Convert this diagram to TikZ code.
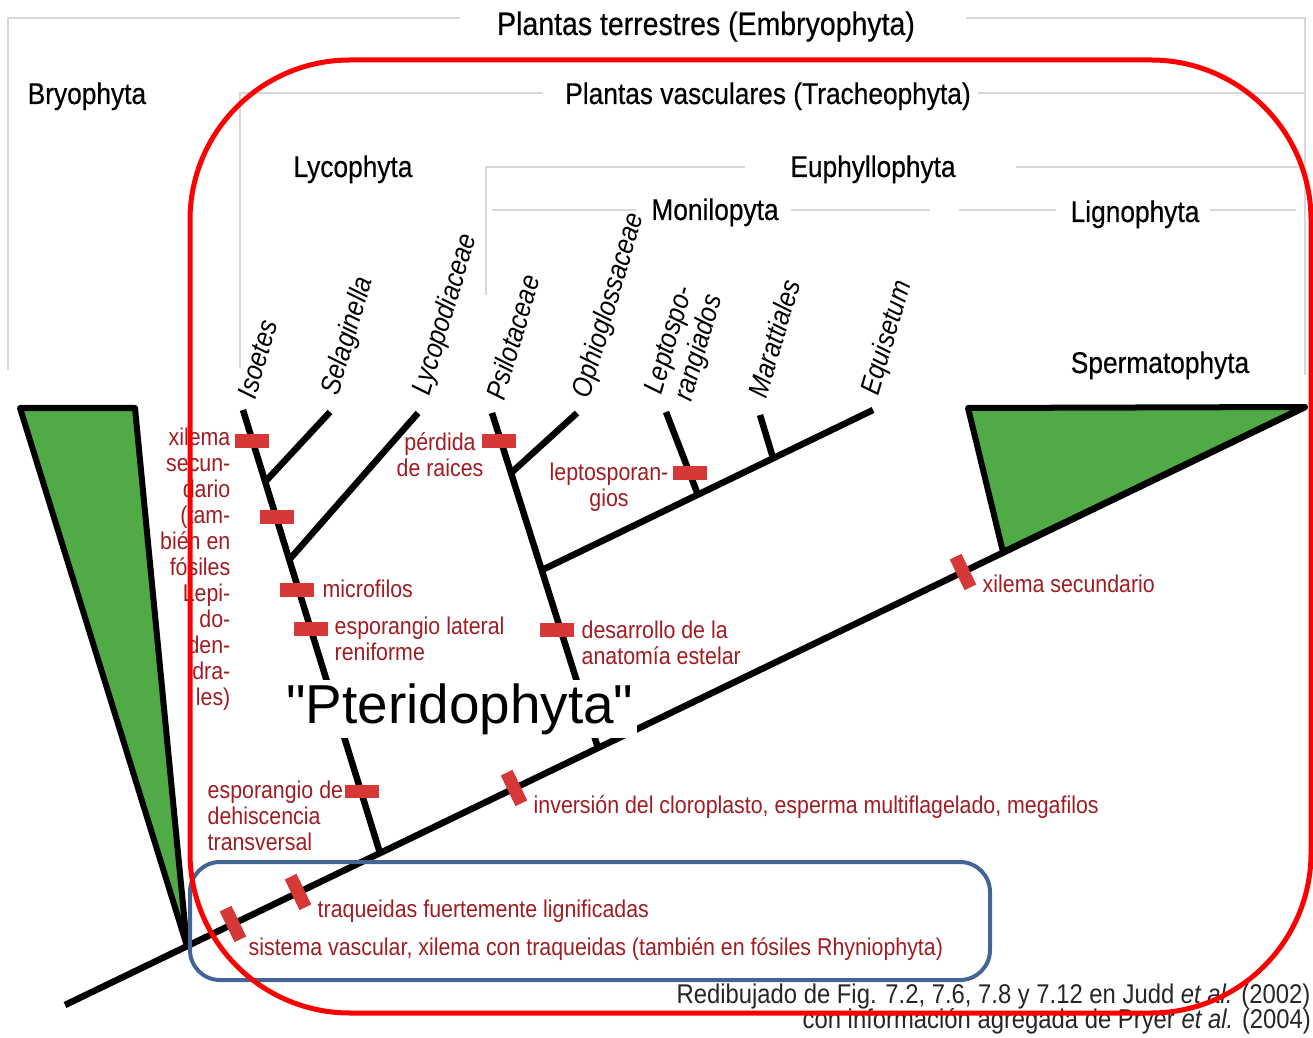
\documentclass[tikz,border=0pt]{standalone}
\usepackage{fontspec}
\setmainfont{Liberation Sans}[FakeStretch=0.88]
\newfontfamily\cladefont{Liberation Sans}[FakeStretch=0.88, FakeBold=0.4]
\newfontfamily\pterfont{Liberation Sans}
\usetikzlibrary{calc}
\definecolor{synred}{RGB}{214,56,56}
\definecolor{txtred}{RGB}{160,28,34}
\definecolor{cladegreen}{RGB}{80,170,70}
\definecolor{bracegray}{RGB}{215,215,215}
\definecolor{boxblue}{RGB}{66,100,150}
\tikzset{
  % branches of the tree
  branch/.style={line width=0.065cm},
  % grey clade brackets
  brace/.style={draw=bracegray, line width=0.55pt},
  % clade names
  clade/.style={font=\cladefont\fontsize{8.5}{10}\selectfont, inner sep=0pt},
  % terminal taxa
  taxon/.style={font=\fontsize{8}{9.4}\selectfont\itshape, rotate=73.5,
    anchor=base west, inner sep=0pt},
  % synapomorphy bars
  syn/.style={fill=synred, minimum width=0.34cm, minimum height=0.13cm,
    inner sep=0pt},
  syntrunk/.style={syn, rotate=115.8},
  % red notes
  note/.style={font=\fontsize{6.9}{7.4}\selectfont, text=txtred, inner sep=0pt},
  % source
  foot/.style={font=\fontsize{7.7}{9}\selectfont, text=black!85, inner sep=0pt},
  % collapsed groups
  wedge/.style={fill=cladegreen, draw=black, line width=0.06cm, line join=round},
}
\begin{document}
\begin{tikzpicture}[x=0.01cm, y=-0.01cm]
  \useasboundingbox (0,0) rectangle (1313,1037);

  % clade brackets
  \draw[brace] (8,370) |- (460,18);
  \draw[brace] (966,18) -| (1305,375);
  \draw[brace] (240,368) |- (543,93);
  \draw[brace] (978,93) -- (1305,93);
  \draw[brace] (486,295) |- (745,167);
  \draw[brace] (1016,167) -- (1305,167);
  \draw[brace] (492,210) -- (636,210);
  \draw[brace] (791,210) -- (930,210);
  \draw[brace] (959,210) -- (1056,210);
  \draw[brace] (1210,210) -- (1296,210);

  \node[clade, font=\cladefont\fontsize{9.2}{11}\selectfont, anchor=base] (embryo)
    at (706,35) {Plantas terrestres (Embryophyta)};
  \node[clade, anchor=base west] (bryo) at (27,104) {Bryophyta};
  \node[clade, anchor=base] (tracheo) at (768,104) {Plantas vasculares (Tracheophyta)};
  \node[clade, anchor=base] (lyco) at (353,177) {Lycophyta};
  \node[clade, anchor=base] (euphyl) at (873,177) {Euphyllophyta};
  \node[clade, anchor=base] (monilo) at (715,220) {Monilopyta};
  \node[clade, anchor=base] (ligno) at (1135,222) {Lignophyta};
  \node[clade, anchor=base] (sperma) at (1160,373) {Spermatophyta};

  % tree
  \coordinate (root) at (65,1005);
  \coordinate (top) at (1305,407);
  \coordinate (bryoA) at (187,946);
  \coordinate (sperJ) at (1003,552);
  \coordinate (lycB) at (380,853);
  \coordinate (isoT) at (243,410);
  \coordinate (selJ) at (265,482);
  \coordinate (selT) at (330,412);
  \coordinate (lcpJ) at (289,560);
  \coordinate (lcpT) at (418,413);
  \coordinate (monB) at (598,748);
  \coordinate (psiT) at (492,413);
  \coordinate (ophJ) at (511,473);
  \coordinate (ophT) at (577,413);
  \coordinate (eqJ) at (542,570);
  \coordinate (equT) at (873,410);
  \coordinate (lepJ) at (698,495);
  \coordinate (lepT) at (666,412);
  \coordinate (marJ) at (773,458);
  \coordinate (marT) at (760,415);

  \draw[wedge] (20,408) -- (135,408) -- (bryoA) -- cycle;
  \draw[wedge] (968,408) -- (top) -- (sperJ) -- cycle;

  \draw[branch] (root) -- (top);
  \draw[branch] (lycB) -- (isoT);
  \draw[branch] (selJ) -- (selT);
  \draw[branch] (lcpJ) -- (lcpT);
  \draw[branch] (monB) -- (psiT);
  \draw[branch] (ophJ) -- (ophT);
  \draw[branch] (eqJ) -- (equT);
  \draw[branch] (lepJ) -- (lepT);
  \draw[branch] (marJ) -- (marT);

  \node[font=\pterfont\fontsize{15.6}{18}\selectfont, fill=white, inner sep=1pt,
    anchor=base] (pterid) at (460,723) {"Pteridophyta"};

  \node[taxon] (isoetes) at (255,401) {Isoetes};
  \node[taxon] (selag) at (338,397) {Selaginella};
  \node[taxon] (lycopod) at (429,397) {Lycopodiaceae};
  \node[taxon] (psilot) at (504,402) {Psilotaceae};
  \node[taxon] (ophio) at (589,400) {Ophioglossaceae};
  \node[taxon] (lepto1) at (661,396) {Leptospo-};
  \node[taxon] (lepto2) at (691,403) {rangiados};
  \node[taxon] (maratt) at (766,400) {Marattiales};
  \node[taxon] (equis) at (878,397) {Equisetum};

  % synapomorphies
  \node[syn] (xil) at (252,441) {};
  \node[syn] (xil2) at (277,517) {};
  \node[syn] (micro) at (297,590) {};
  \node[syn] (espl) at (311,629) {};
  \node[syn] (espd) at (362,791) {};
  \node[syn] (perd) at (499,441) {};
  \node[syn] (desa) at (557,630) {};
  \node[syn] (lept) at (690,473) {};
  \node[syntrunk] (sist) at (233,924) {};
  \node[syntrunk] (traq) at (298,892) {};
  \node[syntrunk] (inve) at (514,788) {};
  \node[syntrunk] (xsec) at (963,572) {};

  \node[note, align=right, anchor=north east] (xilN) at (231,427)
    {xilema\\secun-\\dario\\(tam-\\bién en\\fósiles\\Lepi-\\do-\\den-\\dra-\\les)};
  \node[note, anchor=base west] (microN) at (322,597) {microfilos};
  \node[note, align=left, anchor=north west] (esplN) at (334,616)
    {esporangio lateral\\reniforme};
  \node[note, align=left, anchor=north west] (espdN) at (207,780)
    {esporangio de\\dehiscencia\\transversal};
  \node[note, align=center, anchor=north] (perdN) at (440,432) {pérdida\\de raices};
  \node[note, align=left, anchor=north west] (desaN) at (581,620)
    {desarrollo de la\\anatomía estelar};
  \node[note, align=center, anchor=north] (leptN) at (609,462) {leptosporan-\\gios};
  \node[note, anchor=base west] (xsecN) at (982,592) {xilema secundario};
  \node[note, anchor=base west] (inveN) at (533,813)
    {inversión del cloroplasto, esperma multiflagelado, megafilos};
  \node[note, anchor=base west] (traqN) at (317,917) {traqueidas fuertemente lignificadas};
  \node[note, anchor=base west] (sistN) at (248,955)
    {sistema vascular, xilema con traqueidas (también en fósiles Rhyniophyta)};

  \node[foot, anchor=base east] (redib) at (1311,1003)
    {Redibujado de Fig. 7.2, 7.6, 7.8 y 7.12 en Judd \textit{et al.} (2002)};
  \node[foot, anchor=base west] (pryer) at (802,1028)
    {con información agregada de Pryer \textit{et al.} (2004)};

  % highlight boxes
  \draw[boxblue, line width=0.04cm, rounded corners=0.3cm] (190,862) rectangle (990,980);
  \draw[red, line width=0.05cm, rounded corners=1.6cm] (190,60) rectangle (1311,1013);
\end{tikzpicture}
\end{document}
